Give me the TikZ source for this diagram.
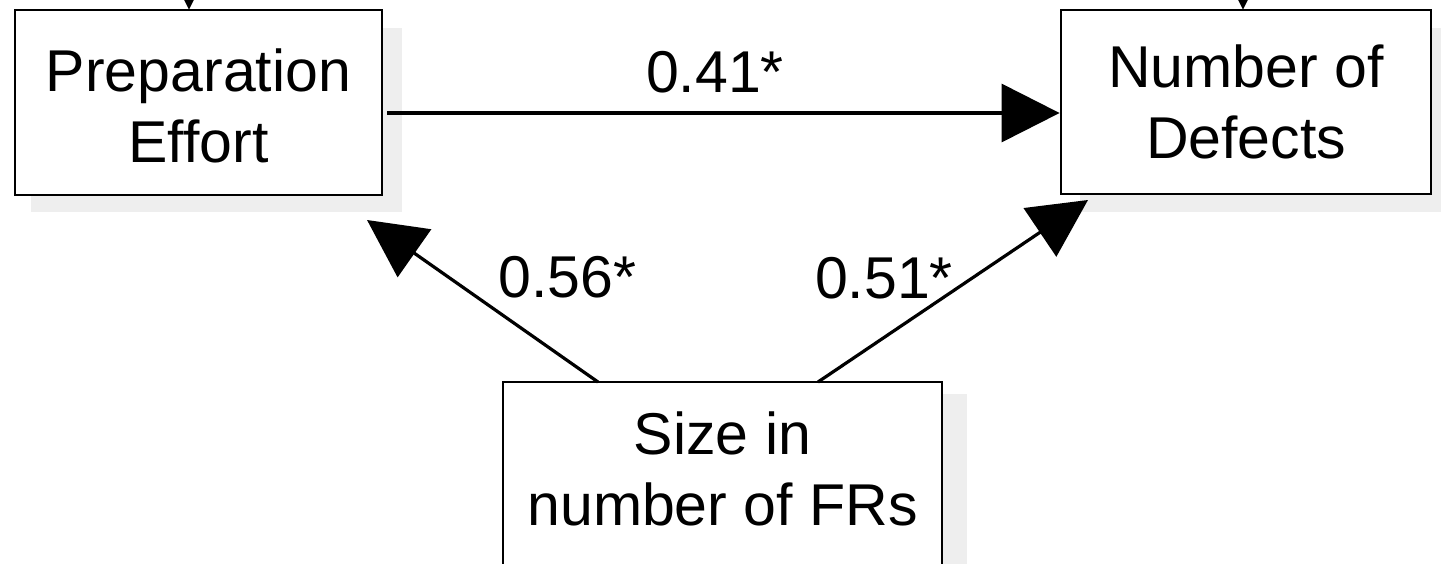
\documentclass[tikz,border=0pt]{standalone}
\usepackage{fontspec}
\setmainfont{Liberation Sans}
\usetikzlibrary{arrows.meta}
\definecolor{shadowgray}{HTML}{EEEEEE}
\tikzset{
  box/.style={draw=black, line width=2.8pt, fill=white, inner sep=0pt, align=center,
    font=\fontsize{59}{71}\selectfont},
  shadowbox/.style={fill=shadowgray, draw=none},
  conn/.style={line width=3.2pt, -{Triangle[length=58pt,width=58pt]}},
  lbl/.style={font=\fontsize{59}{71}\selectfont, inner sep=0pt, anchor=base}
}
\begin{document}
\begin{tikzpicture}[x=1pt, y=-1pt]
\useasboundingbox (0,0) rectangle (1441,563);
\clip (0,0) rectangle (1441,563);
% shadows
\fill[shadowbox] (31,28) rectangle (402,212);
\fill[shadowbox] (1080,28) rectangle (1450,212);
\fill[shadowbox] (525,394) rectangle (967,600);
% boxes
\node[box, minimum width=367pt, minimum height=185pt, text height=120pt] (pe) at (198.5,102.5) {Preparation\\Effort};
\node[box, minimum width=370pt, minimum height=184pt] (nd) at (1246,102) {Number of\\Defects};
\node[box, minimum width=439pt, minimum height=196pt, text depth=22pt] (sz) at (722.5,480) {Size in\\number of FRs};
% incoming arrows from above (cut off)
\coordinate (abovepe) at (189,-120);
\coordinate (abovend) at (1243,-120);
\draw[conn] (abovepe) -- ([yshift=-1pt]abovepe |- pe.north);
\draw[conn] (abovend) -- ([yshift=-1pt]abovend |- nd.north);
% arrows
\coordinate (pestart) at (387,113);
\draw[conn] (pestart) -- (pestart -| nd.west);
\coordinate (s1) at (598,382);
\coordinate (t1) at (367,220);
\coordinate (s2) at (818,382);
\coordinate (t2) at (1088,200);
\draw[conn] (s1) -- (t1);
\draw[conn] (s2) -- (t2);
% labels
\node[lbl] (l1) at (715,92) {0.41*};
\node[lbl] (l2) at (567.5,297) {0.56*};
\node[lbl] (l3) at (884,298) {0.51*};
\end{tikzpicture}
\end{document}
